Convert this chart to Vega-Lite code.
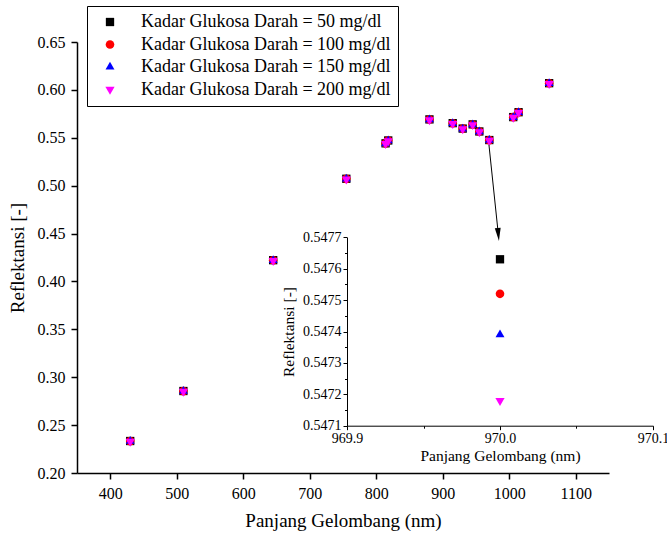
{
  "$schema": "https://vega.github.io/schema/vega-lite/v6.json",
  "width": 532,
  "height": 431,
  "autosize": {"type": "none"},
  "padding": {"left": 77, "top": 42, "right": 58, "bottom": 63},
  "background": "white",
  "config": {
    "font": "Liberation Serif, Times New Roman, serif",
    "view": {"stroke": null},
    "axis": {
      "grid": false,
      "domainColor": "black",
      "tickColor": "black",
      "labelColor": "black",
      "titleColor": "black",
      "labelFont": "Liberation Serif, Times New Roman, serif",
      "titleFont": "Liberation Serif, Times New Roman, serif",
      "titleFontWeight": "normal",
      "labelFlush": false,
      "labelOverlap": false
    },
    "legend": {
      "orient": "none",
      "legendX": 10,
      "legendY": -36,
      "strokeColor": "black",
      "strokeWidth": 1,
      "padding": 7,
      "labelFont": "Liberation Serif, Times New Roman, serif",
      "labelFontSize": 18,
      "labelColor": "black",
      "labelOffset": 22,
      "rowPadding": 4.5,
      "symbolStrokeWidth": 0,
      "labelLimit": 400,
      "titleOrient": "left",
      "titleFontSize": 20,
      "titlePadding": 7,
      "titleFont": "Liberation Serif, Times New Roman, serif"
    }
  },
  "datasets": {
    "pts": [
      {"wl": 430, "r": 0.2334, "s": "Kadar Glukosa Darah = 50 mg/dl"},
      {"wl": 510, "r": 0.2856, "s": "Kadar Glukosa Darah = 50 mg/dl"},
      {"wl": 645, "r": 0.4222, "s": "Kadar Glukosa Darah = 50 mg/dl"},
      {"wl": 755, "r": 0.5072, "s": "Kadar Glukosa Darah = 50 mg/dl"},
      {"wl": 814, "r": 0.5442, "s": "Kadar Glukosa Darah = 50 mg/dl"},
      {"wl": 818, "r": 0.5472, "s": "Kadar Glukosa Darah = 50 mg/dl"},
      {"wl": 880, "r": 0.5692, "s": "Kadar Glukosa Darah = 50 mg/dl"},
      {"wl": 915, "r": 0.5653, "s": "Kadar Glukosa Darah = 50 mg/dl"},
      {"wl": 930, "r": 0.5596, "s": "Kadar Glukosa Darah = 50 mg/dl"},
      {"wl": 945, "r": 0.5640, "s": "Kadar Glukosa Darah = 50 mg/dl"},
      {"wl": 955, "r": 0.5566, "s": "Kadar Glukosa Darah = 50 mg/dl"},
      {"wl": 970, "r": 0.54763, "s": "Kadar Glukosa Darah = 50 mg/dl"},
      {"wl": 1006, "r": 0.5716, "s": "Kadar Glukosa Darah = 50 mg/dl"},
      {"wl": 1014, "r": 0.5767, "s": "Kadar Glukosa Darah = 50 mg/dl"},
      {"wl": 1060, "r": 0.6070, "s": "Kadar Glukosa Darah = 50 mg/dl"},
      {"wl": 430, "r": 0.2333, "s": "Kadar Glukosa Darah = 100 mg/dl"},
      {"wl": 510, "r": 0.2855, "s": "Kadar Glukosa Darah = 100 mg/dl"},
      {"wl": 645, "r": 0.4221, "s": "Kadar Glukosa Darah = 100 mg/dl"},
      {"wl": 755, "r": 0.5071, "s": "Kadar Glukosa Darah = 100 mg/dl"},
      {"wl": 814, "r": 0.5441, "s": "Kadar Glukosa Darah = 100 mg/dl"},
      {"wl": 818, "r": 0.5471, "s": "Kadar Glukosa Darah = 100 mg/dl"},
      {"wl": 880, "r": 0.5691, "s": "Kadar Glukosa Darah = 100 mg/dl"},
      {"wl": 915, "r": 0.5652, "s": "Kadar Glukosa Darah = 100 mg/dl"},
      {"wl": 930, "r": 0.5595, "s": "Kadar Glukosa Darah = 100 mg/dl"},
      {"wl": 945, "r": 0.5639, "s": "Kadar Glukosa Darah = 100 mg/dl"},
      {"wl": 955, "r": 0.5565, "s": "Kadar Glukosa Darah = 100 mg/dl"},
      {"wl": 970, "r": 0.54752, "s": "Kadar Glukosa Darah = 100 mg/dl"},
      {"wl": 1006, "r": 0.5715, "s": "Kadar Glukosa Darah = 100 mg/dl"},
      {"wl": 1014, "r": 0.5766, "s": "Kadar Glukosa Darah = 100 mg/dl"},
      {"wl": 1060, "r": 0.6069, "s": "Kadar Glukosa Darah = 100 mg/dl"},
      {"wl": 430, "r": 0.23315, "s": "Kadar Glukosa Darah = 150 mg/dl"},
      {"wl": 510, "r": 0.28535, "s": "Kadar Glukosa Darah = 150 mg/dl"},
      {"wl": 645, "r": 0.42195, "s": "Kadar Glukosa Darah = 150 mg/dl"},
      {"wl": 755, "r": 0.50695, "s": "Kadar Glukosa Darah = 150 mg/dl"},
      {"wl": 814, "r": 0.54395, "s": "Kadar Glukosa Darah = 150 mg/dl"},
      {"wl": 818, "r": 0.54695, "s": "Kadar Glukosa Darah = 150 mg/dl"},
      {"wl": 880, "r": 0.56895, "s": "Kadar Glukosa Darah = 150 mg/dl"},
      {"wl": 915, "r": 0.56505, "s": "Kadar Glukosa Darah = 150 mg/dl"},
      {"wl": 930, "r": 0.55935, "s": "Kadar Glukosa Darah = 150 mg/dl"},
      {"wl": 945, "r": 0.56375, "s": "Kadar Glukosa Darah = 150 mg/dl"},
      {"wl": 955, "r": 0.55635, "s": "Kadar Glukosa Darah = 150 mg/dl"},
      {"wl": 970, "r": 0.54739, "s": "Kadar Glukosa Darah = 150 mg/dl"},
      {"wl": 1006, "r": 0.57135, "s": "Kadar Glukosa Darah = 150 mg/dl"},
      {"wl": 1014, "r": 0.57645, "s": "Kadar Glukosa Darah = 150 mg/dl"},
      {"wl": 1060, "r": 0.60675, "s": "Kadar Glukosa Darah = 150 mg/dl"},
      {"wl": 430, "r": 0.23295, "s": "Kadar Glukosa Darah = 200 mg/dl"},
      {"wl": 510, "r": 0.28515, "s": "Kadar Glukosa Darah = 200 mg/dl"},
      {"wl": 645, "r": 0.42175, "s": "Kadar Glukosa Darah = 200 mg/dl"},
      {"wl": 755, "r": 0.50675, "s": "Kadar Glukosa Darah = 200 mg/dl"},
      {"wl": 814, "r": 0.54375, "s": "Kadar Glukosa Darah = 200 mg/dl"},
      {"wl": 818, "r": 0.54675, "s": "Kadar Glukosa Darah = 200 mg/dl"},
      {"wl": 880, "r": 0.56875, "s": "Kadar Glukosa Darah = 200 mg/dl"},
      {"wl": 915, "r": 0.56485, "s": "Kadar Glukosa Darah = 200 mg/dl"},
      {"wl": 930, "r": 0.55915, "s": "Kadar Glukosa Darah = 200 mg/dl"},
      {"wl": 945, "r": 0.56355, "s": "Kadar Glukosa Darah = 200 mg/dl"},
      {"wl": 955, "r": 0.55615, "s": "Kadar Glukosa Darah = 200 mg/dl"},
      {"wl": 970, "r": 0.54718, "s": "Kadar Glukosa Darah = 200 mg/dl"},
      {"wl": 1006, "r": 0.57115, "s": "Kadar Glukosa Darah = 200 mg/dl"},
      {"wl": 1014, "r": 0.57625, "s": "Kadar Glukosa Darah = 200 mg/dl"},
      {"wl": 1060, "r": 0.60655, "s": "Kadar Glukosa Darah = 200 mg/dl"}
    ],
    "arrow": [
      {"x": 969.5, "y": 0.5425, "x2": 983.6, "y2": 0.449}
    ]
  },
  "layer": [
    {
      "layer": [
        {
          "data": {"name": "pts"},
          "mark": {"type": "point", "filled": true, "opacity": 1},
          "encoding": {
            "x": {
              "field": "wl", "type": "quantitative", "title": "Panjang Gelombang (nm)",
              "scale": {"domain": [350, 1150], "nice": false, "zero": false},
              "axis": {
                "values": [400, 500, 600, 700, 800, 900, 1000, 1100],
                "format": "d",
                "tickSize": 6,
                "domainWidth": 1.5, "tickWidth": 1.5,
                "labelFontSize": 16, "labelPadding": 6,
                "titleFontSize": 19, "titlePadding": 10
              }
            },
            "y": {
              "field": "r", "type": "quantitative", "title": "Reflektansi [-]",
              "scale": {"domain": [0.2, 0.65], "nice": false, "zero": false},
              "axis": {
                "values": [0.2, 0.225, 0.25, 0.275, 0.3, 0.325, 0.35, 0.375, 0.4, 0.425, 0.45, 0.475, 0.5, 0.525, 0.55, 0.575, 0.6, 0.625, 0.65],
                "format": ".2f",
                "labelExpr": "round(datum.value * 40) % 2 === 0 ? datum.label : ''",
                "tickSize": {"condition": {"test": "round(datum.value * 40) % 2 === 0", "value": 6}, "value": 3.5},
                "domainWidth": 1.5, "tickWidth": 1.5,
                "labelFontSize": 16, "labelPadding": 6,
                "titleFontSize": 19, "titlePadding": 10
              }
            },
            "color": {
              "field": "s", "type": "nominal", "title": "\u2003",
              "scale": {
                "domain": ["Kadar Glukosa Darah = 50 mg/dl", "Kadar Glukosa Darah = 100 mg/dl", "Kadar Glukosa Darah = 150 mg/dl", "Kadar Glukosa Darah = 200 mg/dl"],
                "range": ["#000000", "#ff0000", "#0000ff", "#ff00ff"]
              }
            },
            "shape": {
              "field": "s", "type": "nominal", "title": "\u2003",
              "scale": {
                "domain": ["Kadar Glukosa Darah = 50 mg/dl", "Kadar Glukosa Darah = 100 mg/dl", "Kadar Glukosa Darah = 150 mg/dl", "Kadar Glukosa Darah = 200 mg/dl"],
                "range": ["square", "circle", "M0,-1.155L1,0.577L-1,0.577Z", "M0,1.155L1,-0.577L-1,-0.577Z"]
              }
            },
            "size": {
              "field": "s", "type": "nominal", "title": "\u2003",
              "scale": {
                "domain": ["Kadar Glukosa Darah = 50 mg/dl", "Kadar Glukosa Darah = 100 mg/dl", "Kadar Glukosa Darah = 150 mg/dl", "Kadar Glukosa Darah = 200 mg/dl"],
                "range": [69, 85, 125, 135]
              }
            }
          }
        },
        {
          "data": {"name": "arrow"},
          "mark": {"type": "rule", "color": "black", "strokeWidth": 1},
          "encoding": {
            "x": {"field": "x", "type": "quantitative", "title": "Panjang Gelombang (nm)", "scale": {"domain": [350, 1150], "nice": false, "zero": false}},
            "y": {"field": "y", "type": "quantitative", "title": "Reflektansi [-]", "scale": {"domain": [0.2, 0.65], "nice": false, "zero": false}},
            "x2": {"field": "x2"},
            "y2": {"field": "y2"}
          }
        },
        {
          "data": {"name": "arrow"},
          "mark": {"type": "point", "shape": "M0,1L-0.45,-1L0.45,-1Z", "filled": true, "color": "black", "size": 169, "angle": 354.5, "opacity": 1},
          "encoding": {
            "x": {"field": "x2", "type": "quantitative", "title": "Panjang Gelombang (nm)", "scale": {"domain": [350, 1150], "nice": false, "zero": false}},
            "y": {"field": "y2", "type": "quantitative", "title": "Reflektansi [-]", "scale": {"domain": [0.2, 0.65], "nice": false, "zero": false}}
          }
        }
      ]
    },
    {
      "data": {"name": "pts"},
      "transform": [{"filter": "datum.wl === 970"}],
      "mark": {"type": "point", "filled": true, "opacity": 1},
      "encoding": {
        "x": {
          "field": "wl", "type": "quantitative", "title": "Panjang Gelombang (nm)",
          "scale": {"domain": [969.9, 970.1], "range": [270, 576], "nice": false, "zero": false},
          "axis": {
            "orient": "bottom", "offset": -47.3,
            "values": [969.9, 969.95, 970.0, 970.05, 970.1],
            "format": ".1f",
            "labelExpr": "round(datum.value * 100) % 10 === 0 ? datum.label : ''",
            "tickSize": {"condition": {"test": "round(datum.value * 100) % 10 === 0", "value": 4}, "value": 2.5},
            "domainWidth": 1, "tickWidth": 1,
            "labelFontSize": 14, "labelPadding": 2,
            "titleFontSize": 15.5, "titlePadding": 3
          }
        },
        "y": {
          "field": "r", "type": "quantitative", "title": "Reflektansi [-]",
          "scale": {"domain": [0.5471, 0.5477], "range": [383.7, 195.3], "nice": false, "zero": false},
          "axis": {
            "orient": "left", "offset": -270,
            "values": [0.5471, 0.54715, 0.5472, 0.54725, 0.5473, 0.54735, 0.5474, 0.54745, 0.5475, 0.54755, 0.5476, 0.54765, 0.5477],
            "format": ".4f",
            "labelExpr": "round(datum.value * 20000) % 2 === 0 ? datum.label : ''",
            "tickSize": {"condition": {"test": "round(datum.value * 20000) % 2 === 0", "value": 4}, "value": 2.5},
            "domainWidth": 1, "tickWidth": 1,
            "labelFontSize": 14, "labelPadding": 2,
            "titleFontSize": 15.5, "titlePadding": 6
          }
        },
        "color": {"field": "s", "type": "nominal", "title": "\u2003"},
        "shape": {"field": "s", "type": "nominal", "title": "\u2003"},
        "size": {"field": "s", "type": "nominal", "title": "\u2003"}
      }
    }
  ],
  "resolve": {
    "scale": {"x": "independent", "y": "independent"},
    "axis": {"x": "independent", "y": "independent"}
  }
}
